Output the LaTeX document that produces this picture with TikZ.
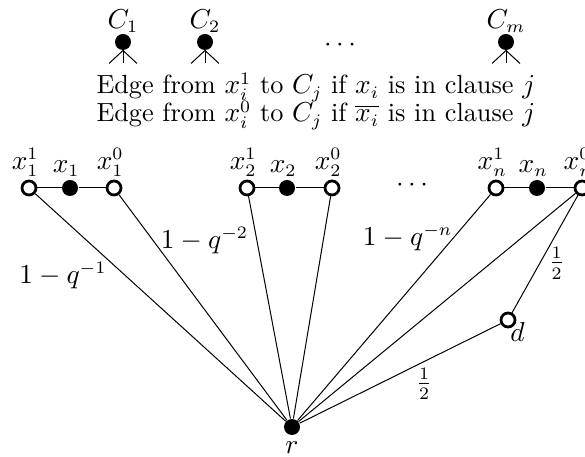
\documentclass[tikz,border=0pt]{standalone}
\usetikzlibrary{positioning}

\begin{document}
\begin{tikzpicture}[x=0.4pt, y=-0.4pt, font=\fontsize{10.5}{12.6}\selectfont,
    open/.style={circle, draw, line width=1.1pt, fill=white, inner sep=0pt, minimum size=5.6pt},
    full/.style={circle, fill=black, inner sep=0pt, minimum size=6.4pt},
    var/.style={inner sep=1pt, xshift=-1.5pt}]
  \clip (0,0) rectangle (585,457);
  % clauses
  \node[full, label={[yshift=-3pt]above:$C_1$}] (c1) at (123,42) {};
  \node[full, label={[yshift=-3pt]above:$C_2$}] (c2) at (205,42) {};
  \node (cdots) at (340,45) {$\cdots$};
  \node[full, label={[yshift=-3pt]above:$C_m$}] (cm) at (506,42) {};
  \foreach \c in {c1,c2,cm} {
    \draw (\c.center) -- ++(0,21);
    \draw (\c.south) -- ++(-14,13);
    \draw (\c.south) -- ++(14,13);
  }
  \node[anchor=base west, inner sep=0pt] (rule1) at (96,94)
    {Edge from $x_i^1$ to $C_j$ if $x_i$ is in clause $j$};
  \node[anchor=base west, inner sep=0pt] (rule0) at (96,122)
    {Edge from $x_i^0$ to $C_j$ if $\overline{x_i}$ is in clause $j$};
  % variables
  \node[open, label={[var]above:$x_1^1$}] (x11) at (29,188) {};
  \node[full, label={[var]above:$x_1$}] (x1) at (70,188) {};
  \node[open, label={[var]above:$x_1^0$}] (x10) at (114,188) {};
  \node[open, label={[var]above:$x_2^1$}] (x21) at (247,188) {};
  \node[full, label={[var]above:$x_2$}] (x2) at (287,188) {};
  \node[open, label={[var]above:$x_2^0$}] (x20) at (332,188) {};
  \node (xdots) at (412,185) {$\cdots$};
  \node[open, label={[var]above:$x_n^1$}] (xn1) at (496,188) {};
  \node[full, label={[var]above:$x_n$}] (xn) at (537,188) {};
  \node[open, label={[var]above:$x_n^0$}] (xn0) at (582,188) {};
  \node[full, label={[yshift=1pt]below:$r$}] (r) at (292,427) {};
  \node[open, label={[xshift=-5pt, yshift=5pt]below right:$d$}] (d) at (508,320) {};
  \draw (x11) -- (x1) -- (x10);
  \draw (x21) -- (x2) -- (x20);
  \draw (xn1) -- (xn) -- (xn0);
  \draw (x11) -- node[pos=0.36, left=4pt] {$1-q^{-1}$} (r);
  \draw (x10) -- (r);
  \draw (x21) -- node[pos=0.2, left=0pt] {$1-q^{-2}$} (r);
  \draw (x20) -- (r);
  \draw (xn1) -- node[pos=0.19, left=-3pt] {$1-q^{-n}$} (r);
  \draw (xn0) -- (r);
  \draw (xn0) -- node[pos=0.58, right=0pt] {$\frac{1}{2}$} (d);
  \draw (d) -- node[pos=0.38, below=-1pt] {$\frac{1}{2}$} (r);
\end{tikzpicture}
\end{document}
